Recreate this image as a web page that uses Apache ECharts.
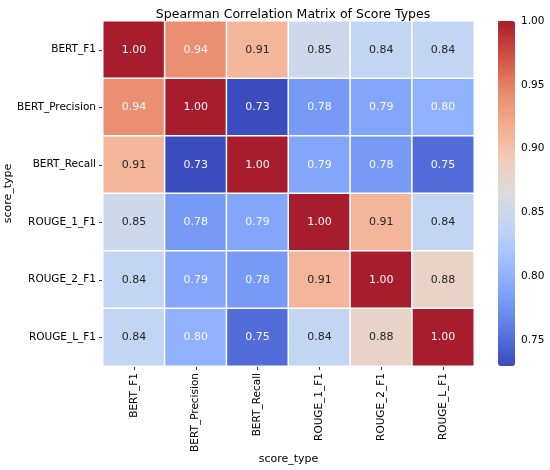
<!DOCTYPE html>
<html>
<head>
  <meta charset="utf-8">
  <title>Spearman Correlation Matrix</title>
  <script src="https://cdn.jsdelivr.net/npm/echarts@6/dist/echarts.min.js"></script>
  <style>
    html, body { margin: 0; padding: 0; background: #fff; }
    #main { width: 550px; height: 470px; }
  </style>
</head>
<body>
  <div id="main"></div>
  <script>
  // score types, same order on both axes
  var scoreTypes = ['BERT_F1', 'BERT_Precision', 'BERT_Recall', 'ROUGE_1_F1', 'ROUGE_2_F1', 'ROUGE_L_F1'];

  // one row per score type
  var rowBertF1 = [1.00, 0.94, 0.91, 0.85, 0.84, 0.84];
  var rowBertPrecision = [0.94, 1.00, 0.73, 0.78, 0.79, 0.80];
  var rowBertRecall = [0.91, 0.73, 1.00, 0.79, 0.78, 0.75];
  var rowRouge1 = [0.85, 0.78, 0.79, 1.00, 0.91, 0.84];
  var rowRouge2 = [0.84, 0.79, 0.78, 0.91, 1.00, 0.88];
  var rowRougeL = [0.84, 0.80, 0.75, 0.84, 0.88, 1.00];

  var colorbarTicks = [0.75, 0.80, 0.85, 0.90, 0.95, 1.00];

  var rows = [rowBertF1, rowBertPrecision, rowBertRecall, rowRouge1, rowRouge2, rowRougeL];
  var font = 'DejaVu Sans';

  var cells = [];
  rows.forEach(function (row, y) {
    row.forEach(function (v, x) {
      var dark = v > 0.82 && v < 0.925;
      cells.push({ value: [x, y, v], label: { color: dark ? '#262626' : '#f8f8f8' } });
    });
  });

  var chart = echarts.init(document.getElementById('main'));
  chart.setOption({
    animation: false,
    textStyle: { fontFamily: font },
    title: {
      text: 'Spearman Correlation Matrix of Score Types',
      left: 288, top: 3, textAlign: 'center',
      textStyle: { fontSize: 12.5, fontWeight: 'normal', color: '#000', fontFamily: font }
    },
    grid: [
      { left: 103, top: 21, width: 371, height: 345, outerBoundsMode: 'none', containLabel: false },
      { left: 498, top: 21, width: 17, height: 345, outerBoundsMode: 'none', containLabel: false }
    ],
    xAxis: [{
      type: 'category', gridIndex: 0, data: scoreTypes,
      name: 'score_type', nameLocation: 'middle', nameGap: 88, nameMoveOverlap: false,
      nameTextStyle: { fontSize: 11, color: '#000' },
      axisLine: { show: false },
      axisTick: { show: true, alignWithLabel: true, length: 4, lineStyle: { color: '#333' } },
      axisLabel: { rotate: 90, fontSize: 10.5, color: '#000', margin: 7 },
      splitLine: { show: false }
    }, {
      type: 'value', gridIndex: 1, show: false
    }],
    yAxis: [{
      type: 'category', gridIndex: 0, data: scoreTypes, inverse: true,
      name: 'score_type', nameLocation: 'middle', nameGap: 89, nameRotate: 90, nameMoveOverlap: false,
      nameTextStyle: { fontSize: 11, color: '#000' },
      axisLine: { show: false },
      axisTick: { show: true, alignWithLabel: true, length: 4, lineStyle: { color: '#333' } },
      axisLabel: { fontSize: 10.5, color: '#000', margin: 7 },
      splitLine: { show: false }
    }, {
      type: 'value', gridIndex: 1, position: 'right', min: 0.7296, max: 1.0,
      axisLine: { show: false },
      splitLine: { show: false },
      axisTick: { show: true, length: 4, customValues: colorbarTicks, lineStyle: { color: '#333' } },
      axisLabel: {
        fontSize: 10.5, color: '#000', margin: 6, customValues: colorbarTicks,
        formatter: function (v) { return v.toFixed(2); }
      }
    }],
    visualMap: {
      type: 'continuous', min: 0.7296, max: 1.0, dimension: 2, seriesIndex: 0,
      left: 498, top: 21, itemWidth: 17, itemHeight: 345, padding: 0,
      text: ['', ''], showLabel: false, calculable: false, hoverLink: false,
      inRange: {
        color: ['#3b4bbe', '#5977e3', '#7b9ff9', '#9ebeff', '#c0d4f5', '#dddcdc',
                '#f2cbb7', '#f4ab8e', '#e8876a', '#cf5044', '#a81d2d']
      }
    },
    series: [{
      type: 'heatmap', xAxisIndex: 0, yAxisIndex: 0, data: cells,
      itemStyle: { borderColor: '#ffffff', borderWidth: 1.5 },
      label: {
        show: true, fontSize: 11,
        formatter: function (p) { return p.value[2].toFixed(2); }
      },
      emphasis: { disabled: true }
    }]
  });
  </script>
</body>
</html>
